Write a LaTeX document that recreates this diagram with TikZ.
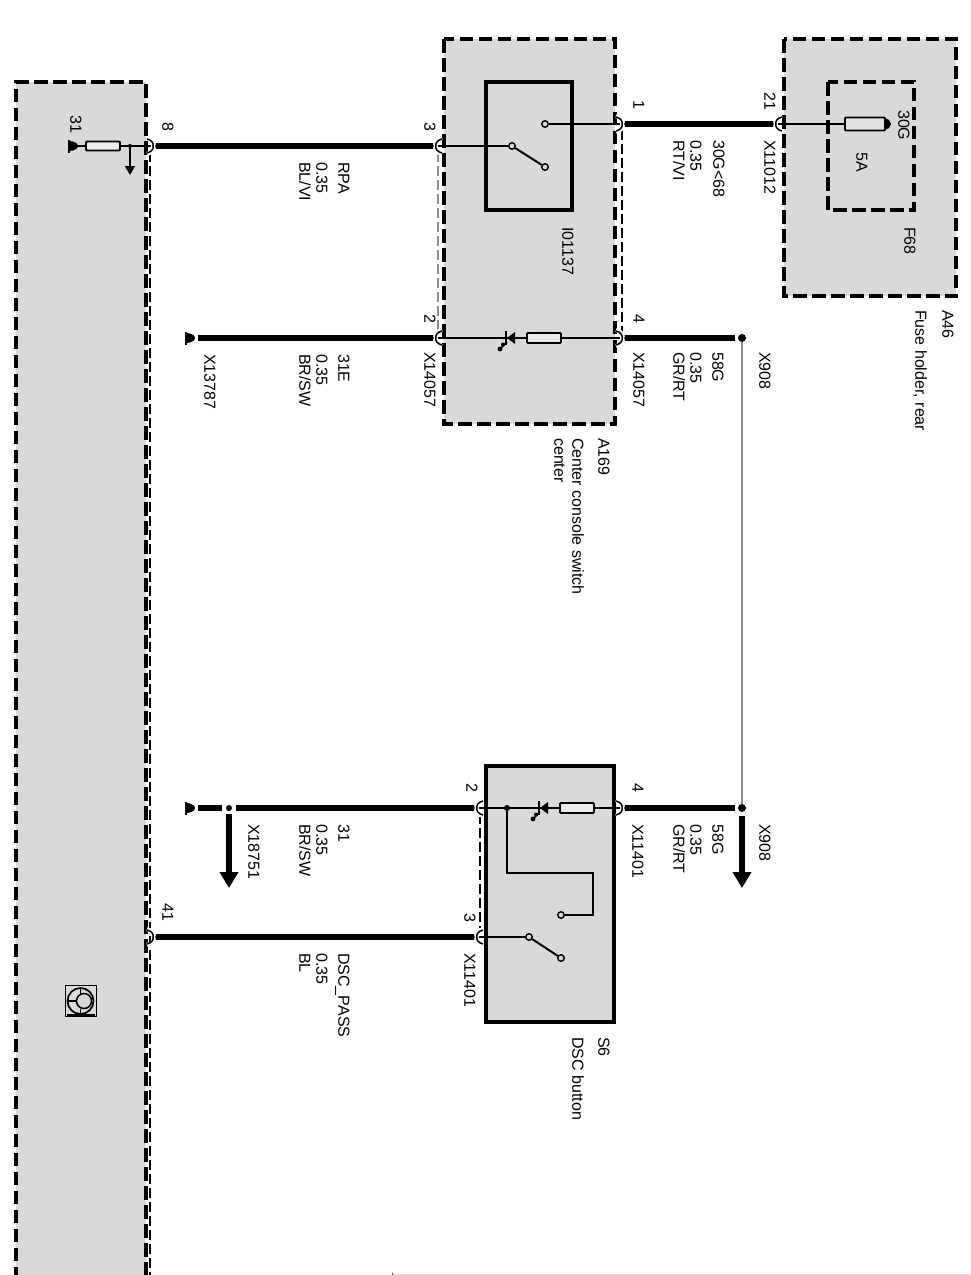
\documentclass[tikz,border=0pt]{standalone}
\usepackage{fontspec}
\setmainfont{Liberation Sans}
\usetikzlibrary{arrows.meta,calc}
\tikzset{
 x=1pt,y=-1pt,
 comp/.style={draw=black,fill=black!15,line width=3.6pt,dash pattern=on 13.5pt off 5.5pt},
 inner/.style={draw=black,line width=3.4pt,dash pattern=on 13.5pt off 5.5pt},
 solidbox/.style={draw=black,line width=3.8pt},
 wire/.style={line width=5.5pt,black},
 thinw/.style={line width=1.6pt,black},
 link/.style={line width=1.5pt,black,dash pattern=on 10pt off 4pt},
 graylink/.style={line width=1.8pt,black!45,dash pattern=on 10pt off 4pt},
 lbl/.style={rotate=-90,anchor=mid west,inner sep=0pt,font=\fontsize{16}{18}\selectfont,text=black},
 contact/.style={circle,draw=black,fill=black!15,line width=1.4pt,minimum size=6.5pt,inner sep=0pt},
 dotn/.style={circle,fill=black,minimum size=8pt,inner sep=0pt},
 dots/.style={circle,fill=black,minimum size=6pt,inner sep=0pt},
 resist/.style={draw=black,fill=black!8,line width=1.9pt,rounded corners=1pt},
 bigarrow/.style={line width=5.5pt,-{Triangle[length=16pt,width=18pt]}},
 smallarrow/.style={line width=1.6pt,-{Triangle[length=9pt,width=10pt]}},
}
\newcommand{\chevR}[1]{% tip to the right
 \draw[white,line width=4pt] ($(#1)+(-6,-8)$) .. controls ($(#1)+(0,-7)$) and ($(#1)+(2,-2)$) .. (#1) .. controls ($(#1)+(2,2)$) and ($(#1)+(0,7)$) .. ($(#1)+(-6,8)$);
 \draw[black,line width=1.5pt] ($(#1)+(-6,-7)$) .. controls ($(#1)+(-1,-6)$) and ($(#1)+(1,-2)$) .. (#1) .. controls ($(#1)+(1,2)$) and ($(#1)+(-1,6)$) .. ($(#1)+(-6,7)$);}
\newcommand{\chevL}[1]{% tip to the left
 \draw[white,line width=4pt] ($(#1)+(6,-8)$) .. controls ($(#1)+(0,-7)$) and ($(#1)+(-2,-2)$) .. (#1) .. controls ($(#1)+(-2,2)$) and ($(#1)+(0,7)$) .. ($(#1)+(6,8)$);
 \draw[black,line width=1.5pt] ($(#1)+(6,-7)$) .. controls ($(#1)+(1,-6)$) and ($(#1)+(-1,-2)$) .. (#1) .. controls ($(#1)+(-1,2)$) and ($(#1)+(1,6)$) .. ($(#1)+(6,7)$);}
\newcommand{\groundsym}[1]{%
 \draw[line width=2.5pt] ($(#1)+(0,-6.5)$) -- ($(#1)+(0,6.5)$);
 \fill ($(#1)+(0,-5)$) .. controls ($(#1)+(6,-5)$) and ($(#1)+(9,-2)$) .. ($(#1)+(9,0)$) .. controls ($(#1)+(9,2)$) and ($(#1)+(6,5)$) .. ($(#1)+(0,5)$) -- cycle;}
\newcommand{\ledsym}[1]{% diode, bar at left, tip to the left
 \fill ($(#1)+(2,0)$) -- ($(#1)+(10,-6)$) -- ($(#1)+(10,6)$) -- cycle;
 \draw[line width=1.8pt] ($(#1)+(1,-7)$) -- ($(#1)+(1,7)$);
 \draw[line width=1.7pt] ($(#1)+(2,4)$) -- ($(#1)+(-4,10)$);
 \fill ($(#1)+(-5,11)$) circle (2.4pt);
 \fill ($(#1)+(-2,6.5)$) circle (2pt);}
\begin{document}
\begin{tikzpicture}
\useasboundingbox (0,0) rectangle (970,1275);
\fill[white] (0,0) rectangle (970,1275);
% component boxes
\path[comp] (16,1280) -- (16,82) -- (146,82) -- (146,1280);
\path[comp] (444,39) rectangle (615,424);
\path[comp] (784,39) rectangle (956,296);
\draw[inner] (828,82) rectangle (914,210);
\draw[solidbox] (486,82) rectangle (572,210);
\path[fill=black!15,draw=black,line width=3.8pt] (486,766) rectangle (614,1022);
% faint page edge
\draw[line width=1pt,black!15] (393,1274.4) -- (970,1274.4);
\fill[black!70] (391.5,1272.5) rectangle (393,1275);
% terminals
\coordinate (t1) at (622,124);
\coordinate (t21) at (776,124);
\coordinate (t3a) at (436,146);
\coordinate (t8) at (153,146);
\coordinate (t2a) at (436,338);
\coordinate (t4a) at (622,338);
\coordinate (t2b) at (477,808);
\coordinate (t4b) at (622,808);
\coordinate (t3b) at (477,937);
\coordinate (t41) at (153,937);
\coordinate (g1) at (186,338);
\coordinate (g2) at (186,808);
\coordinate (g3) at (69,146);
% links between pins
\draw[link] (150,152) -- (150,1280);
\draw[graylink] (438,152) -- (438,332);
\draw[link] (622,130) -- (622,332);
\draw[link] (480,814) -- (480,931);
% wires
\draw[wire] (t1) -- (t21);
\draw[wire] (t8) -- (t3a);
\draw[wire] (198,338) -- (t2a);
\node[dotn] (j908a) at (742,338) {};
\node[dotn] (j908b) at (742,808) {};
\node[dots] (j187) at (229,808) {};
\draw[wire] (t4a) -- ($(j908a)+(-7,0)$);
\draw[wire] (t4b) -- ($(j908b)+(-7,0)$);
\draw[line width=2.2pt,black!45] (j908a) -- (j908b);
\draw[bigarrow] ($(j908b)+(0,8)$) -- (742,888);
\draw[wire] (198,808) -- (222,808);
\draw[wire] (236,808) -- (t2b);
\draw[bigarrow] ($(j187)+(0,6)$) -- (229,888);
\draw[wire] (t41) -- (t3b);
\groundsym{g1}\groundsym{g2}\groundsym{g3}
% switch I01137
\node[contact] (c1) at (545,124) {};
\node[contact] (c2) at (512,146) {};
\node[contact] (c3) at (545,167) {};
\draw[thinw] (c1) -- (t1);
\draw[thinw] (t3a) -- (c2);
\draw[line width=2pt] (c2) -- (c3);
% fuse F68
\draw[thinw] (t21) -- (845,124);
\node[resist,fill=black!12,minimum width=40pt,minimum height=13pt,inner sep=0pt] (fuse) at (865,124) {};
\fill (885,118) -- (889,120) -- (891,124) -- (889,128) -- (885,130) -- cycle;
% lamp branch A169
\draw[thinw] (t2a) -- (t4a);
\node[resist,minimum width=34pt,minimum height=10pt,inner sep=0pt] (r1) at (544,338) {};
\ledsym{$(505,338)$}
% S6
\draw[thinw] (t2b) -- (t4b);
\node[resist,minimum width=34pt,minimum height=10pt,inner sep=0pt] (r2) at (577,808) {};
\ledsym{$(538,808)$}
\node[dots] (j6) at (507,808) {};
\node[contact] (c4) at (561,915) {};
\node[contact] (c5) at (529,937) {};
\node[contact] (c6) at (561,958) {};
\draw[line width=2.2pt] (j6) -- (507,873) -- (593,873) -- (593,915) -- (c4);
\draw[thinw] (t3b) -- (c5);
\draw[line width=2pt] (c5) -- (c6);
% module
\draw[thinw] (t8) -- (g3);
\node[resist,minimum width=34pt,minimum height=9pt,inner sep=0pt] (r3) at (103,146) {};
\node[dots,minimum size=4pt] (j3) at (130,146) {};
\draw[smallarrow] (j3) -- (130,175);
% connector chevrons
\chevR{t1}\chevL{t21}\chevL{t3a}\chevR{t8}\chevL{t2a}\chevR{t4a}\chevL{t2b}\chevR{t4b}\chevL{t3b}\chevR{t41}
% logo
\node[draw=black,line width=1pt,minimum size=31pt,inner sep=0pt] (logo) at (80.5,1001) {};
\draw[line width=1.7pt] (80.5,1001) circle (13pt);
\draw[line width=1.5pt] (84,1001) circle (7.5pt);
\draw[line width=1.5pt] (67.5,1001) -- (76.5,1001) (80.5,988) -- (80.5,993.5) (80.5,1008.5) -- (80.5,1014);
\draw[line width=1.5pt] (67,1015) -- (95,1015);
% labels
\node[lbl] (n1) at (636,100) {1};
\node[lbl] (n21) at (767,92) {21};
\node[lbl] (n3) at (427,122) {3};
\node[lbl] (n8) at (165,122) {8};
\node[lbl] (n31) at (73,115) {31};
\node[lbl] (x11012) at (767,140) {X11012};
\node[lbl] (a1) at (716,140) {30G<68};
\node[lbl] (a2) at (693,140) {0.35};
\node[lbl] (a3) at (676,140) {RT/VI};
\node[lbl] (i0) at (565,227) {I01137};
\node[lbl] (f68) at (907,227) {F68};
\node[lbl] (g30) at (901,110) {30G};
\node[lbl] (a5) at (859,152) {5A};
\node[lbl] (a46) at (945,310) {A46};
\node[lbl] (fh) at (918,310) {Fuse holder, rear};
\node[lbl] (a169) at (601,438) {A169};
\node[lbl] (cc1) at (575,438) {Center console switch};
\node[lbl] (cc2) at (557,438) {center};
\node[lbl] (s6) at (601,1037) {S6};
\node[lbl] (dsc) at (575,1037) {DSC button};
\node[lbl] (b1) at (341,162) {RPA};
\node[lbl] (b2) at (319,162) {0.35};
\node[lbl] (b3) at (302,162) {BL/VI};
\node[lbl] (n2a) at (427,314) {2};
\node[lbl] (n4a) at (636,314) {4};
\node[lbl] (x1) at (427,352) {X14057};
\node[lbl] (x2) at (636,352) {X14057};
\node[lbl] (x908a) at (762,352) {X908};
\node[lbl] (d1) at (715,352) {58G};
\node[lbl] (d2) at (693,352) {0.35};
\node[lbl] (d3) at (676,352) {GR/RT};
\node[lbl] (e1) at (341,354) {31E};
\node[lbl] (e2) at (319,354) {0.35};
\node[lbl] (e3) at (302,354) {BR/SW};
\node[lbl] (x13) at (207,354) {X13787};
\node[lbl] (n4b) at (635,783) {4};
\node[lbl] (n2b) at (469,783) {2};
\node[lbl] (x3) at (635,824) {X11401};
\node[lbl] (x908b) at (762,824) {X908};
\node[lbl] (h1) at (715,824) {58G};
\node[lbl] (h2) at (693,824) {0.35};
\node[lbl] (h3) at (676,824) {GR/RT};
\node[lbl] (k1) at (341,824) {31};
\node[lbl] (k2) at (319,824) {0.35};
\node[lbl] (k3) at (302,824) {BR/SW};
\node[lbl] (x18) at (251,824) {X18751};
\node[lbl] (n3b) at (467,913) {3};
\node[lbl] (x4) at (467,953) {X11401};
\node[lbl] (m1) at (341,953) {DSC\_PASS};
\node[lbl] (m2) at (319,953) {0.35};
\node[lbl] (m3) at (302,953) {BL};
\node[lbl] (n41) at (165,903) {41};
\end{tikzpicture}
\end{document}
